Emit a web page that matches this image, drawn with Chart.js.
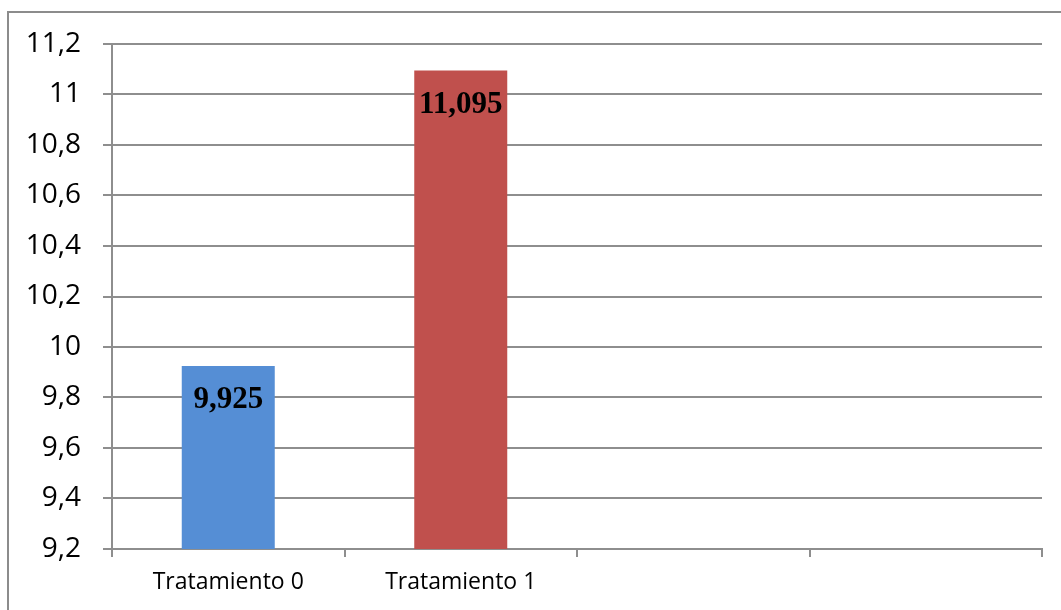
<!DOCTYPE html>
<html>
<head>
<meta charset="utf-8">
<script src="https://cdn.jsdelivr.net/npm/chart.js@4"></script>
<style>
  html, body { margin: 0; padding: 0; background: #fff; overflow: hidden; }
  #wrap { position: relative; width: 1061px; height: 610px; }
  #frame {
    position: absolute; left: 7px; top: 11px;
    width: 1100px; height: 700px;
    border: 2px solid #8c8c8c;
  }
  #grafico { position: absolute; left: 0; top: 0; }
</style>
</head>
<body>
<div id="wrap">
  <div id="frame"></div>
  <canvas id="grafico" width="1061" height="610"></canvas>
</div>
<script>
const categorias = ['Tratamiento 0', 'Tratamiento 1', '', ''];
const valores = [9.925, 11.095, null, null];
const colores = ['#558ED5', '#C0504D', '#558ED5', '#558ED5'];
const ejeMin = 9.2;
const ejeMax = 11.2;
const ejePaso = 0.2;

function coma(v) {
    return String(Number(v.toFixed(3))).replace('.', ',');
}

// etiquetas de valor dentro de la barra, arriba
const etiquetasValor = {
    id: 'etiquetasValor',
    afterDatasetsDraw(chart) {
        const ctx = chart.ctx;
        const meta = chart.getDatasetMeta(0);
        ctx.save();
        ctx.font = 'bold 31px "Liberation Serif", "Times New Roman", serif';
        ctx.fillStyle = '#000';
        ctx.textAlign = 'center';
        ctx.textBaseline = 'alphabetic';
        meta.data.forEach(function(bar, i) {
            if (valores[i] == null) return;
            ctx.fillText(coma(valores[i]), bar.x, bar.y + 42);
        });
        ctx.restore();
    }
};

const gris = '#8e8e8e';

new Chart(document.getElementById('grafico'), {
    type: 'bar',
    data: {
        labels: categorias,
        datasets: [{
            data: valores,
            backgroundColor: colores,
            borderWidth: 0,
            categoryPercentage: 1,
            barPercentage: 0.4
        }]
    },
    options: {
        responsive: false,
        animation: false,
        layout: { padding: { left: 0, right: 19, top: 44, bottom: 0 } },
        plugins: {
            legend: { display: false },
            tooltip: { enabled: false }
        },
        scales: {
            x: {
                grid: {
                    offset: true,
                    drawOnChartArea: false,
                    drawTicks: true,
                    tickLength: 8,
                    color: gris,
                    lineWidth: 2
                },
                border: { color: gris, width: 2 },
                ticks: {
                    color: '#000',
                    padding: 12,
                    font: { family: '"Open Sans", "Noto Sans", sans-serif', size: 23 }
                },
                afterFit(scale) { scale.height = 61; }
            },
            y: {
                min: ejeMin,
                max: ejeMax,
                grid: {
                    color: gris,
                    lineWidth: 2,
                    tickLength: 9
                },
                border: { color: gris, width: 2 },
                ticks: {
                    stepSize: ejePaso,
                    color: '#000',
                    padding: 22,
                    font: { family: '"Open Sans", "Noto Sans", sans-serif', size: 28 },
                    callback: function(v) { return coma(v); }
                },
                afterFit(scale) { scale.width = 112; }
            }
        }
    },
    plugins: [etiquetasValor]
});
</script>
</body>
</html>
